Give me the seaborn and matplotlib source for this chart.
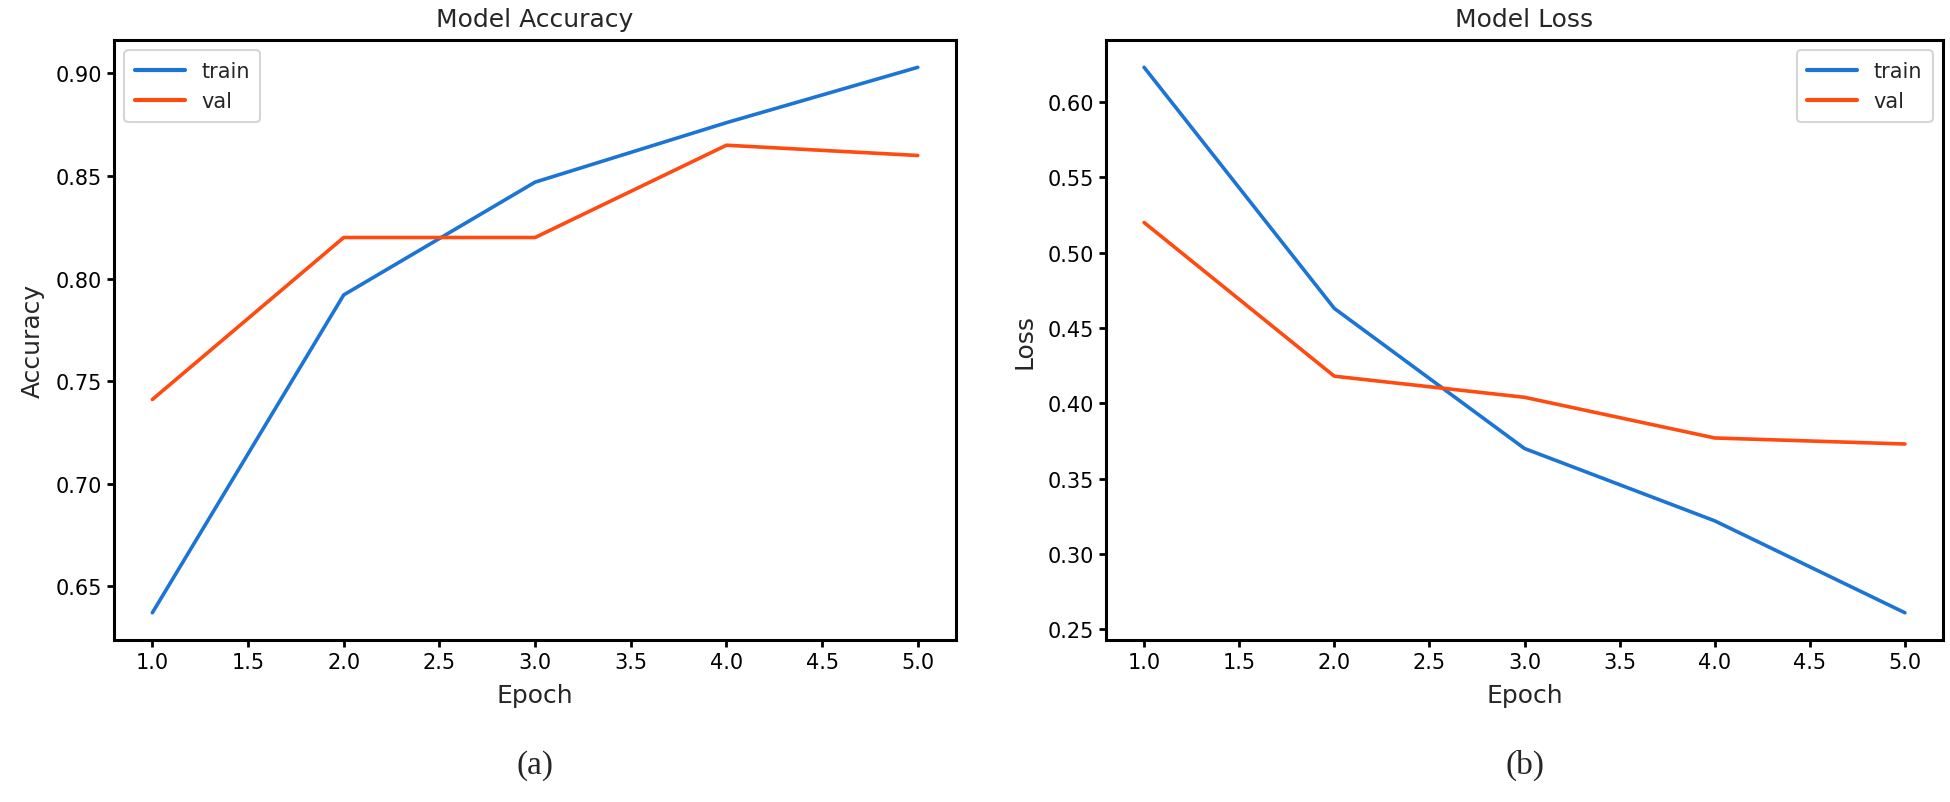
import pandas as pd
import matplotlib
matplotlib.use('Agg')
import matplotlib.pyplot as plt
import seaborn as sns

# Values
epochs = [1, 2, 3, 4, 5]
acc_train = [0.637, 0.792, 0.847, 0.876, 0.903]
acc_val = [0.741, 0.820, 0.820, 0.865, 0.860]
loss_train = [0.623, 0.463, 0.370, 0.322, 0.261]
loss_val = [0.520, 0.418, 0.404, 0.377, 0.373]
series_names = ['train', 'val']
panel_titles = ['Model Accuracy', 'Model Loss']
panel_ylabels = ['Accuracy', 'Loss']
captions = ['(a)', '(b)']

sns.set_style('white')
plt.rcParams['font.family'] = ['DejaVu Sans']

palette = {'train': '#1c74d4', 'val': '#ff4a10'}


def long_df(train, val):
    return pd.DataFrame({
        'epoch': epochs * 2,
        'value': train + val,
        'series': [series_names[0]] * len(epochs) + [series_names[1]] * len(epochs),
    })


fig = plt.figure(figsize=(19.5, 8.03), dpi=100)
ax1 = fig.add_axes([0.0585, 0.2017, 0.4318, 0.7472])
ax2 = fig.add_axes([0.5672, 0.2017, 0.4292, 0.7472])

panels = [
    (ax1, long_df(acc_train, acc_val), 'upper left'),
    (ax2, long_df(loss_train, loss_val), 'upper right'),
]

for i, (ax, df, loc) in enumerate(panels):
    sns.lineplot(data=df, x='epoch', y='value', hue='series', palette=palette,
                 linewidth=2.6, ax=ax)
    ax.set_title(panel_titles[i], fontsize=18, pad=10)
    ax.set_xlabel('Epoch', fontsize=18, labelpad=8)
    ax.set_ylabel(panel_ylabels[i], fontsize=18, labelpad=8)
    ax.set_xticks([1.0, 1.5, 2.0, 2.5, 3.0, 3.5, 4.0, 4.5, 5.0])
    ax.xaxis.set_major_formatter(matplotlib.ticker.FormatStrFormatter('%.1f'))
    ax.yaxis.set_major_formatter(matplotlib.ticker.FormatStrFormatter('%.2f'))
    ax.tick_params(axis='both', labelsize=15, length=5, width=2, direction='out',
                   bottom=True, left=True, colors='black')
    for s in ax.spines.values():
        s.set_linewidth(2.2)
        s.set_color('black')
    leg = ax.legend(loc=loc, fontsize=15, frameon=True, handlelength=2.4,
                    borderpad=0.5, labelspacing=0.5)
    leg.get_frame().set_edgecolor('#c8cccc')
    leg.get_frame().set_linewidth(1.5)
    for line in leg.get_lines():
        line.set_linewidth(3)
    ax.text(0.5, -0.208, captions[i], transform=ax.transAxes, ha='center',
            va='center', fontsize=24, family='Liberation Serif')

ax1.set_yticks([0.65, 0.70, 0.75, 0.80, 0.85, 0.90])
ax2.set_yticks([0.25, 0.30, 0.35, 0.40, 0.45, 0.50, 0.55, 0.60])

fig.savefig('out.png', dpi=100)
